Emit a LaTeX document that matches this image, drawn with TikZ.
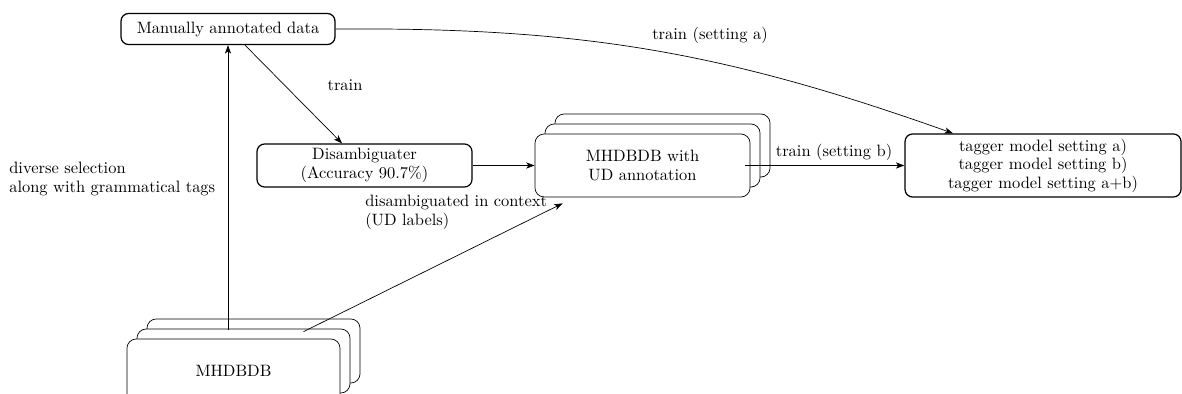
\documentclass[tikz,border=0pt]{standalone}
\usetikzlibrary{arrows.meta,calc,shadows}

\tikzset{
  >={Stealth[length=5.5pt,width=4pt,inset=1.5pt]},
  every node/.style={font=\fontsize{10.7}{12}\selectfont},
  boxthick/.style={draw, line width=0.8pt, rounded corners=5pt, fill=white,
                   inner sep=0pt, align=center},
  stackbox/.style={draw, line width=0.45pt, rounded corners=6pt, fill=white,
                   inner sep=0pt, align=center,
                   copy shadow={shadow xshift=13pt, shadow yshift=13pt,
                                draw=black, fill=white, line width=0.45pt},
                   copy shadow={shadow xshift=6.5pt, shadow yshift=6.5pt,
                                draw=black, fill=white, line width=0.45pt}},
  lbl/.style={inner sep=0pt},
  conn/.style={->, line width=0.45pt},
}

\begin{document}
\begin{tikzpicture}[x=0.65pt, y=-0.65pt]
  \useasboundingbox (0,0) rectangle (1182,394);
  \clip (0,0) rectangle (1182,394);

  % boxes
  \node[boxthick, minimum width=139.1pt, minimum height=20.2pt] (mad)
       at (228,29) {Manually annotated data};
  \node[boxthick, minimum width=139.8pt, minimum height=28pt] (dis)
       at (364.5,165.5) {Disambiguater\\(Accuracy 90.7\%)};
  \node[stackbox, minimum width=139.8pt, minimum height=41pt] (ud)
       at (642.5,165.5) {MHDBDB with\\UD annotation};
  \node[boxthick, minimum width=179.4pt, minimum height=41pt] (tag)
       at (1043,165.5) {tagger model setting a)\\tagger model setting b)\\tagger model setting a+b)};
  \node[stackbox, minimum width=138.5pt, minimum height=41.6pt] (mhd)
       at (233.5,371) {MHDBDB};

  % connectors
  \draw[conn] ($(mad.south)+(17,0)$) -- ($(dis.north)+(-22.5,0)$);
  \draw[conn] (dis.east) -- (ud.west);
  \draw[conn] ($(ud.east)+(-5,0)$) -- (tag.west);
  \draw[conn] (mad.east) to[bend left=10] ($(tag.north)+(-90,0)$);
  \draw[conn] ($(mad.south |- mhd.north)+(0,-9)$) -- (mad.south);
  \draw[conn] ($(mhd.north)+(70,-7)$) -- ($(ud.south west)+(28,6)$);

  % labels
  \node[lbl] (ltrain) at (345,85) {train};
  \node[lbl] (lseta) at (710,35) {train (setting a)};
  \node[lbl] (lsetb) at (834,152) {train (setting b)};
  \node[lbl, anchor=west, align=left] (lctx) at (365,212.5)
       {disambiguated in context\\(UD labels)};
  \node[lbl, anchor=west, align=left] (lsel) at (9,179)
       {diverse selection\\along with grammatical tags};
\end{tikzpicture}
\end{document}
